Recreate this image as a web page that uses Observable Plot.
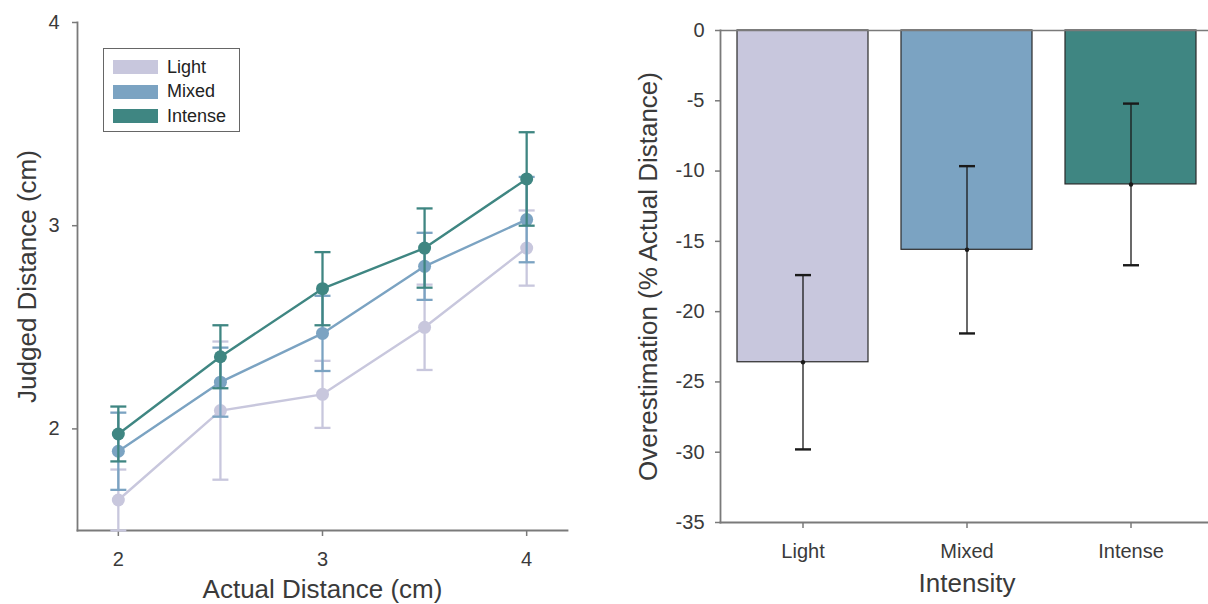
<!DOCTYPE html>
<html><head><meta charset="utf-8">
<script src="https://cdn.jsdelivr.net/npm/d3@7"></script>
<script src="https://cdn.jsdelivr.net/npm/@observablehq/plot@0.6"></script>
<style>
body{margin:0;background:#fff;font-family:"Liberation Sans",Arial,Helvetica,sans-serif;}
#wrap{position:relative;width:1208px;height:604px;overflow:hidden;background:#fff;}
#left{position:absolute;left:0;top:0;width:600px;height:604px;}
#right{position:absolute;left:600px;top:0;width:613px;height:604px;}
#wrap svg{max-width:none !important;display:block;}
.legend{position:absolute;left:103px;top:48px;width:137px;height:84px;border:1.5px solid #666;box-sizing:border-box;background:#fff;}
.legend .row{position:absolute;left:9px;height:20px;display:flex;align-items:center;font-size:18px;color:#222;}
.legend .sw{width:45px;height:14px;margin-right:9px;}
</style></head>
<body>
<div id="wrap"><div id="left"></div><div id="right"></div><div class="legend" id="legend"></div></div>
<script>
// ---- data ----
const distances = [2, 2.5, 3, 3.5, 4];
const intensities = ["Light", "Mixed", "Intense"];
const colors = ["#c8c7dd", "#7ba3c2", "#3f8682"];
const lightMeans   = [1.65, 2.09, 2.17, 2.50, 2.89];
const lightErr     = [0.15, 0.34, 0.165, 0.21, 0.185];
const mixedMeans   = [1.89, 2.23, 2.47, 2.80, 3.03];
const mixedErr     = [0.19, 0.17, 0.185, 0.165, 0.21];
const intenseMeans = [1.975, 2.355, 2.69, 2.89, 3.23];
const intenseErr   = [0.135, 0.155, 0.18, 0.195, 0.23];
const xTicks = [2, 3, 4];
const yTicks = [2, 3, 4];
const xDomain = [1.8, 4.2];
const yDomain = [1.5, 4];

const overestimation = [-23.6, -15.6, -10.95];
const overErr = [6.2, 5.95, 5.75];
const barTicks = [0, -5, -10, -15, -20, -25, -30, -35];
const barDomain = [-35, 0];

// ---- build tables ----
const means = [lightMeans, mixedMeans, intenseMeans];
const errs = [lightErr, mixedErr, intenseErr];
const table = intensities.flatMap((k, j) => distances.map((x, i) => ({intensity: k, x, mean: means[j][i], err: errs[j][i]})));
const bars = intensities.map((k, i) => ({intensity: k, value: overestimation[i], err: overErr[i]}));

const capSymbol = {draw(ctx, size) { const r = Math.sqrt(size / Math.PI); ctx.moveTo(-r, 0); ctx.lineTo(r, 0); }};
const axisColor = "#7a7a7a";
const textColor = "#3a3a3a";
const font = "'Liberation Sans', Arial, Helvetica, sans-serif";
const fmt = d => String(d);

// ---- left chart ----
const seriesMarks = intensities.flatMap((k, j) => {
  const d = table.filter(r => r.intensity === k);
  const c = colors[j];
  return [
    Plot.ruleX(d, {x: "x", y1: r => r.mean - r.err, y2: r => r.mean + r.err, stroke: c, strokeWidth: 2.3}),
    Plot.dot(d, {x: "x", y: r => r.mean + r.err, symbol: capSymbol, r: 8, stroke: c, strokeWidth: 2.3, fill: "none"}),
    Plot.dot(d, {x: "x", y: r => r.mean - r.err, symbol: capSymbol, r: 8, stroke: c, strokeWidth: 2.3, fill: "none"}),
    Plot.line(d, {x: "x", y: "mean", stroke: c, strokeWidth: 2.4}),
    Plot.dot(d, {x: "x", y: "mean", r: 6.5, fill: c, stroke: "none"})
  ];
});

const left = Plot.plot({
  width: 600, height: 604,
  marginLeft: 77, marginRight: 33, marginTop: 22, marginBottom: 74,
  style: {fontFamily: font, fontSize: "20px", color: textColor, background: "transparent", overflow: "visible"},
  x: {domain: xDomain},
  y: {domain: yDomain},
  marks: [
    Plot.frame({anchor: "left", stroke: axisColor, strokeWidth: 1.8}),
    Plot.frame({anchor: "bottom", stroke: axisColor, strokeWidth: 1.8}),
    Plot.axisX({ticks: xTicks, tickFormat: fmt, tickSize: 6, tickPadding: 15, label: null, stroke: axisColor, strokeWidth: 1.5, fill: textColor}),
    Plot.axisY({ticks: yTicks, tickFormat: fmt, tickSize: 5, tickPadding: 13, label: null, stroke: axisColor, strokeWidth: 1.5, fill: textColor}),
    Plot.text(["Judged Distance (cm)"], {frameAnchor: "left", textAnchor: "middle", rotate: -90, dx: -50, fontSize: 26, fill: textColor}),
    Plot.text(["Actual Distance (cm)"], {frameAnchor: "bottom", textAnchor: "middle", dy: 67, fontSize: 26, fill: textColor}),
    ...seriesMarks
  ]
});
document.getElementById("left").appendChild(left);

// ---- legend ----
const lg = document.getElementById("legend");
intensities.forEach((k, i) => {
  const row = document.createElement("div");
  row.className = "row";
  row.style.top = (8 + i * 24.5) + "px";
  row.innerHTML = `<span class="sw" style="background:${colors[i]}"></span><span>${k}</span>`;
  lg.appendChild(row);
});

// ---- right chart ----
const right = Plot.plot({
  width: 613, height: 604,
  marginLeft: 120, marginRight: 0, marginTop: 30, marginBottom: 82,
  style: {fontFamily: font, fontSize: "20px", color: textColor, background: "transparent"},
  x: {domain: intensities, paddingInner: 0.2, paddingOuter: 0.1},
  y: {domain: barDomain},
  color: {domain: intensities, range: colors},
  marks: [
    Plot.barY(bars, {x: "intensity", y: "value", fill: "intensity", stroke: "#2a2a2a", strokeWidth: 1.2}),
    Plot.ruleY([0], {stroke: axisColor, strokeWidth: 1.5}),
    Plot.frame({anchor: "left", stroke: axisColor, strokeWidth: 1.8}),
    Plot.frame({anchor: "bottom", stroke: axisColor, strokeWidth: 1.8}),
    Plot.axisX({tickSize: 6, tickPadding: 15, label: null, stroke: axisColor, strokeWidth: 1.5, fill: textColor}),
    Plot.axisY({ticks: barTicks, tickFormat: fmt, tickSize: 5, tickPadding: 11, label: null, stroke: axisColor, strokeWidth: 1.5, fill: textColor}),
    Plot.ruleX(bars, {x: "intensity", y1: d => d.value - d.err, y2: d => d.value + d.err, stroke: "#1a1a1a", strokeWidth: 1.3}),
    Plot.dot(bars, {x: "intensity", y: d => d.value + d.err, symbol: capSymbol, r: 8, stroke: "#1a1a1a", strokeWidth: 2.4, fill: "none"}),
    Plot.dot(bars, {x: "intensity", y: d => d.value - d.err, symbol: capSymbol, r: 8, stroke: "#1a1a1a", strokeWidth: 2.4, fill: "none"}),
    Plot.dot(bars, {x: "intensity", y: "value", r: 2.2, fill: "#1a1a1a"}),
    Plot.text(["Overestimation (% Actual Distance)"], {frameAnchor: "left", textAnchor: "middle", rotate: -90, dx: -72, fontSize: 26, fill: textColor}),
    Plot.text(["Intensity"], {frameAnchor: "bottom", textAnchor: "middle", dy: 69, fontSize: 26, fill: textColor})
  ]
});
document.getElementById("right").appendChild(right);
</script>
</body></html>
